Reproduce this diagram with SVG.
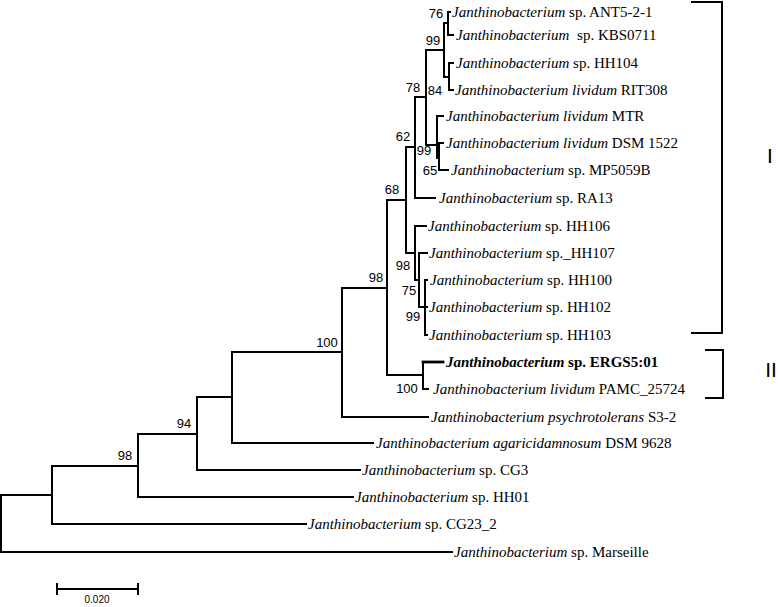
<svg xmlns="http://www.w3.org/2000/svg" width="778" height="607" viewBox="0 0 778 607">
<style>
.br{fill:none;stroke:#000;stroke-width:2;stroke-linecap:square}
.lf{font-family:"Liberation Serif","Times New Roman",serif;font-size:15px;fill:#000}
.it{font-style:italic}
.bs{font-family:"Liberation Sans",Arial,sans-serif;font-size:13px;fill:#000;text-anchor:middle}
.cl{font-family:"Liberation Sans",Arial,sans-serif;font-size:21px;fill:#000;text-anchor:middle}
</style>
<rect width="778" height="607" fill="#fff"/>
<g id="connectors" class="br">
<path d="M448,12V35M448,12H450M448,35H453"/>
<path d="M444,23H448M449,63V90M449,63H453M449,90H453M444,77H449"/>
<path d="M444,23V77M426,50H444"/>
<path d="M437,116V158M437,116H443M439,143V170M439,143H443M439,170H448M437,158H439"/>
<path d="M426,50V145M426,145H437"/>
<path d="M415,97H426M415,97V198M415,198H435"/>
<path d="M406,147H415M406,147V253M387,200H406"/>
<path d="M406,253H415M415,226V280M415,226H426M415,280H419M419,253V307M419,253H427M419,307H425M425,280V335M425,280H427M425,307H427M425,335H427"/>
<path d="M387,200V375M387,375H423M423,362V389M423,389H428"/>
<path d="M423,362H443" style="stroke-width:2.8"/>
<path d="M342,288H387M342,288V417M342,417H428"/>
<path d="M232,352H342M232,352V443M232,443H373"/>
<path d="M197,397H232M197,397V470M197,470H360"/>
<path d="M138,434H197M138,434V497M138,497H353"/>
<path d="M52,466H138M52,466V524M52,524H306"/>
<path d="M1,495H52M1,495V552M1,552H452"/>
<path d="M57,589H138M57,584V594M138,584V594"/>
<path d="M692,2H722V333H692"/>
<path d="M706,350H723V398H706"/>
</g>
<g id="bootstrap">
<text class="bs" x="436" y="18">76</text>
<text class="bs" x="433" y="45">99</text>
<text class="bs" x="413" y="92">78</text>
<text class="bs" x="435" y="95">84</text>
<text class="bs" x="403" y="141">62</text>
<text class="bs" x="424" y="155">99</text>
<text class="bs" x="430" y="175">65</text>
<text class="bs" x="392" y="194">68</text>
<text class="bs" x="403" y="270">98</text>
<text class="bs" x="409" y="295">75</text>
<text class="bs" x="413" y="321">99</text>
<text class="bs" x="376" y="282">98</text>
<text class="bs" x="407" y="393">100</text>
<text class="bs" x="327" y="347">100</text>
<text class="bs" x="184" y="428">94</text>
<text class="bs" x="125" y="460">98</text>
</g>
<g id="leaf-ANT5-2-1"><text class="lf" x="452" y="17"><tspan class="it">Janthinobacterium</tspan> sp. ANT5-2-1</text></g>
<g id="leaf-KBS0711"><text class="lf" x="456" y="40"><tspan class="it">Janthinobacterium</tspan><tspan dx="4"> sp. KBS0711</tspan></text></g>
<g id="leaf-HH104"><text class="lf" x="456" y="68"><tspan class="it">Janthinobacterium</tspan> sp. HH104</text></g>
<g id="leaf-RIT308"><text class="lf" x="455" y="95"><tspan class="it">Janthinobacterium lividum</tspan> RIT308</text></g>
<g id="leaf-MTR"><text class="lf" x="446" y="121"><tspan class="it">Janthinobacterium lividum</tspan> MTR</text></g>
<g id="leaf-DSM1522"><text class="lf" x="446" y="148"><tspan class="it">Janthinobacterium lividum</tspan> DSM 1522</text></g>
<g id="leaf-MP5059B"><text class="lf" x="451" y="175"><tspan class="it">Janthinobacterium</tspan> sp. MP5059B</text></g>
<g id="leaf-RA13"><text class="lf" x="439" y="203"><tspan class="it">Janthinobacterium</tspan> sp. RA13</text></g>
<g id="leaf-HH106"><text class="lf" x="428" y="231"><tspan class="it">Janthinobacterium</tspan> sp. HH106</text></g>
<g id="leaf-HH107"><text class="lf" x="429" y="258"><tspan class="it">Janthinobacterium</tspan> sp._HH107</text></g>
<g id="leaf-HH100"><text class="lf" x="430" y="285"><tspan class="it">Janthinobacterium</tspan> sp. HH100</text></g>
<g id="leaf-HH102"><text class="lf" x="429" y="312"><tspan class="it">Janthinobacterium</tspan> sp. HH102</text></g>
<g id="leaf-HH103"><text class="lf" x="429" y="340"><tspan class="it">Janthinobacterium</tspan> sp. HH103</text></g>
<g id="leaf-ERGS5-01"><text class="lf" x="446" y="367" font-weight="bold"><tspan class="it">Janthinobacterium</tspan> sp. ERGS5:01</text></g>
<g id="leaf-PAMC25724"><text class="lf" x="433" y="394"><tspan class="it">Janthinobacterium lividum</tspan> PAMC_25724</text></g>
<g id="leaf-S3-2"><text class="lf" x="431" y="422"><tspan class="it">Janthinobacterium psychrotolerans</tspan> S3-2</text></g>
<g id="leaf-DSM9628"><text class="lf" x="376" y="448"><tspan class="it">Janthinobacterium agaricidamnosum</tspan> DSM 9628</text></g>
<g id="leaf-CG3"><text class="lf" x="362" y="475"><tspan class="it">Janthinobacterium</tspan> sp. CG3</text></g>
<g id="leaf-HH01"><text class="lf" x="355" y="502"><tspan class="it">Janthinobacterium</tspan> sp. HH01</text></g>
<g id="leaf-CG23_2"><text class="lf" x="308" y="529"><tspan class="it">Janthinobacterium</tspan> sp. CG23_2</text></g>
<g id="leaf-Marseille"><text class="lf" x="454" y="557"><tspan class="it">Janthinobacterium</tspan> sp. Marseille</text></g>
<g id="clade-I"><text class="cl" x="770" y="163">I</text></g>
<g id="clade-II"><text class="cl" x="771" y="377">II</text></g>
<g id="scale"><text x="97" y="603" font-family="Liberation Sans, Arial, sans-serif" font-size="10" text-anchor="middle">0.020</text></g>
</svg>
